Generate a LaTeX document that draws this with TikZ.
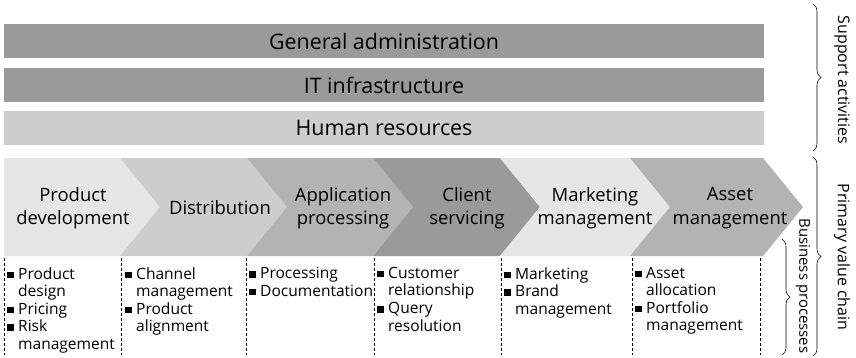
\documentclass[tikz,border=0pt]{standalone}
\usepackage{fontspec}
\setmainfont{Open Sans}
\usetikzlibrary{decorations.pathreplacing}
\definecolor{barDark}{HTML}{9A9A9A}
\definecolor{barLight}{HTML}{CDCDCD}
\definecolor{chA}{HTML}{E6E6E6}
\definecolor{chB}{HTML}{CDCDCD}
\definecolor{chC}{HTML}{B3B3B3}
\definecolor{chD}{HTML}{9A9A9A}
\newcommand\blt{\makebox[11bp][l]{\rule[1bp]{6.5bp}{6.5bp}}}
\newcommand\ind{\hspace*{11bp}}
\tikzset{
  bar/.style={minimum width=760bp,minimum height=34bp,inner sep=0pt,font=\fontsize{21.5}{24}\selectfont},
  stage/.style={align=center,inner sep=0pt,font=\fontsize{18.5}{23.5}\selectfont},
  items/.style={anchor=north west,align=left,inner sep=0pt,font=\fontsize{15.6}{17.6}\selectfont},
  sep/.style={dashed,dash pattern=on 3bp off 2bp,line width=0.7bp},
  side/.style={rotate=-90,inner sep=0pt,font=\fontsize{16}{18}\selectfont},
  brc/.style={decorate,decoration={brace,amplitude=8bp},line width=0.6bp},
}
\begin{document}
\begin{tikzpicture}[x=1bp,y=1bp]
\useasboundingbox (0,0) rectangle (856,357);
%% support activities
\node (ga) at (384,316) [bar,fill=barDark] {General administration};
\node (it) at (384,272) [bar,fill=barDark] {IT infrastructure};
\node (hr) at (384,229) [bar,fill=barLight] {Human resources};
%% primary value chain
\foreach \l/\n/\r/\c in {4/0/120/chA,120/40/247/chB,247/40/373/chC,373/40/500/chD,500/40/630/chA,630/40/763/chC}
  \fill[\c] (\l,199) -- (\r,199) -- (\r+40,150) -- (\r,101) -- (\l,101) -- (\l+\n,150) -- cycle;
\node (pd) at (73,149) [stage] {Product\\development};
\node (di) at (220,149) [stage] {Distribution};
\node (ap) at (343,149) [stage] {Application\\processing};
\node (cs) at (467,149) [stage] {Client\\servicing};
\node (mm) at (595,149) [stage] {Marketing\\management};
\node (am) at (730,149) [stage] {Asset\\management};
%% business processes
\foreach \x in {4,121,246,374,501,632,760}
  \draw[sep] (\x,99) -- (\x,2);
\node (bp1) at (7,90) [items] {\blt Product\\\ind design\\\blt Pricing\\\blt Risk\\\ind management};
\node (bp2) at (125,90) [items] {\blt Channel\\\ind management\\\blt Product\\\ind alignment};
\node (bp3) at (249,90) [items] {\blt Processing\\\blt Documentation};
\node (bp4) at (377,90) [items] {\blt Customer\\\ind relationship\\\blt Query\\\ind resolution};
\node (bp5) at (504,90) [items] {\blt Marketing\\\blt Brand\\\ind management};
\node (bp6) at (635,90) [items] {\blt Asset\\\ind allocation\\\blt Portfolio\\\ind management};
%% side labels
\node (sa) at (842,277) [side] {Support activities};
\node (pv) at (842,100) [side] {Primary value chain};
\node (bs) at (803,71) [side,font=\fontsize{15}{17}\selectfont] {Business processes};
\draw[brc] (813,353) -- (813,206);
\draw[brc] (813,200) -- (813,1);
\draw[brc] (782,118) -- (782,2);
%
\end{tikzpicture}
\end{document}
